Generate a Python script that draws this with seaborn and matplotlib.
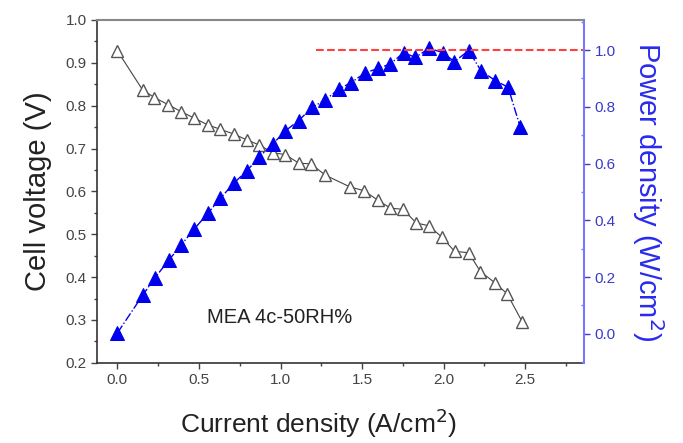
import numpy as np
import pandas as pd
import matplotlib
matplotlib.use("Agg")
import matplotlib.pyplot as plt
import seaborn as sns
from matplotlib.ticker import MultipleLocator

# Dados
corrente_v = [0.0, 0.154, 0.227, 0.313, 0.391, 0.471, 0.555, 0.630, 0.712, 0.794,
              0.871, 0.953, 1.029, 1.111, 1.187, 1.274, 1.428, 1.509, 1.595, 1.673,
              1.751, 1.833, 1.908, 1.990, 2.067, 2.153, 2.225, 2.317, 2.389, 2.481]
tensao = [0.928, 0.837, 0.819, 0.802, 0.786, 0.771, 0.755, 0.745, 0.734, 0.720,
          0.708, 0.690, 0.686, 0.666, 0.664, 0.638, 0.610, 0.602, 0.580, 0.561,
          0.558, 0.526, 0.520, 0.493, 0.460, 0.457, 0.413, 0.386, 0.361, 0.296]

corrente_p = [0.0, 0.156, 0.231, 0.317, 0.391, 0.472, 0.555, 0.632, 0.714, 0.794,
              0.871, 0.953, 1.029, 1.111, 1.193, 1.274, 1.356, 1.432, 1.520, 1.598,
              1.673, 1.755, 1.826, 1.912, 1.994, 2.066, 2.153, 2.229, 2.317, 2.395,
              2.469]
potencia = [0.003, 0.137, 0.198, 0.261, 0.313, 0.370, 0.425, 0.478, 0.531, 0.575,
            0.624, 0.669, 0.715, 0.751, 0.798, 0.824, 0.862, 0.885, 0.920, 0.935,
            0.951, 0.991, 0.974, 1.006, 0.991, 0.959, 0.998, 0.927, 0.892, 0.869,
            0.729]

linha_ref = 1.0
linha_ref_inicio = 1.22
rotulo = "MEA 4c-50RH%"

sns.set_style("ticks")
plt.rcParams['font.family'] = ['Liberation Sans', 'DejaVu Sans']

fig = plt.figure(figsize=(6.83, 4.43), dpi=100)
ax = fig.add_axes([0.142, 0.181, 0.713, 0.774])
ax2 = ax.twinx()

df_v = pd.DataFrame({"I": corrente_v, "V": tensao})
df_p = pd.DataFrame({"I": corrente_p, "P": potencia})

sns.lineplot(data=df_v, x="I", y="V", ax=ax, color="#444444", linewidth=0.8,
             marker="^", markersize=9, markerfacecolor="white",
             markeredgecolor="#555555", markeredgewidth=1.0, estimator=None)
sns.lineplot(data=df_p, x="I", y="P", ax=ax2, color="#0000ee", linewidth=1.0,
             linestyle="-.", marker="^", markersize=10.5, markerfacecolor="#0000ee",
             markeredgecolor="#0000ee", estimator=None)

ax2.hlines(linha_ref, linha_ref_inicio, 2.87, colors="#ff4040", linestyles="--",
           linewidth=1.5)

ax.set_xlim(-0.125, 2.86)
ax.set_ylim(0.2, 1.0)
ax2.set_ylim(-0.102, 1.106)

ax.xaxis.set_major_locator(MultipleLocator(0.5))
ax.xaxis.set_minor_locator(MultipleLocator(0.25))
ax.yaxis.set_major_locator(MultipleLocator(0.1))
ax.yaxis.set_minor_locator(MultipleLocator(0.05))
ax2.yaxis.set_major_locator(MultipleLocator(0.2))
ax2.yaxis.set_minor_locator(MultipleLocator(0.1))

ax.set_xlabel("Current density (A/cm$^2$)", fontsize=19, color="#222222",
              labelpad=14, x=0.455)
ax.set_ylabel("Cell voltage (V)", fontsize=21, color="#222222", labelpad=10)
ax2.set_ylabel("Power density (W/cm$^2$)", fontsize=21, color="#2a2aee",
               rotation=270, labelpad=36)

ax.tick_params(axis="both", which="major", direction="out", length=4, width=1,
               labelsize=11, colors="#444444")
ax.tick_params(axis="both", which="minor", direction="out", length=2, width=1,
               colors="#444444")
ax2.tick_params(axis="y", which="major", direction="out", length=4, width=1,
                labelsize=11, colors="#3a3acc")
ax2.tick_params(axis="y", which="minor", direction="in", length=2, width=1,
                colors="#7777ff")

for nome in ["left", "bottom"]:
    ax.spines[nome].set_color("#333333")
    ax.spines[nome].set_linewidth(1.2)
ax2.spines["top"].set_color("#888888")
ax2.spines["top"].set_linewidth(1.5)
ax2.spines["left"].set_visible(False)
ax2.spines["bottom"].set_visible(False)
ax2.spines["right"].set_color("#7777ff")
ax2.spines["right"].set_linewidth(1.5)
ax.spines["right"].set_visible(False)
ax.spines["top"].set_visible(False)

ax.text(0.55, 0.305, rotulo, fontsize=14.5, color="#222222", va="center", ha="left")

plt.savefig("out.png", dpi=100)
plt.close()
